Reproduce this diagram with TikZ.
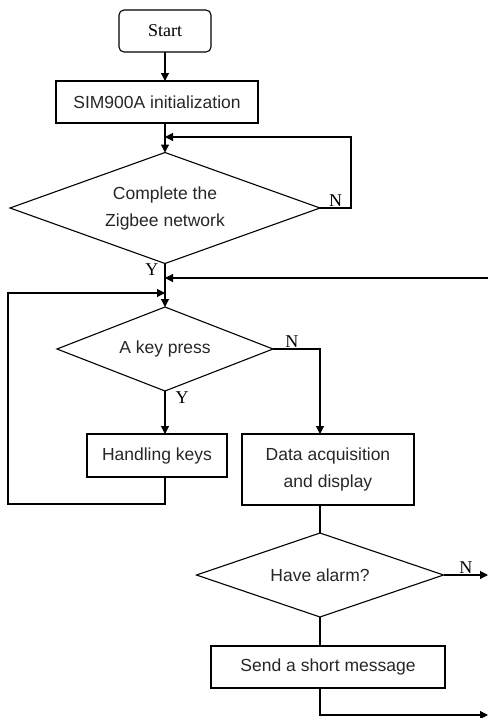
\documentclass[tikz,border=0pt]{standalone}
\usepackage{fontspec}
\setmainfont{Liberation Sans}
\newfontfamily\ynfont{Liberation Serif}
\usetikzlibrary{shapes.geometric,arrows.meta}

\tikzset{
  flowline/.style = {line width=1.1pt},
  flowarrow/.style = {flowline, -{Triangle[length=8pt,width=8pt]}},
  procbox/.style = {draw, line width=1.1pt, inner sep=0pt, outer sep=0pt,
                    align=center, text=black!85,
                    font=\fontsize{17.5}{27}\selectfont},
  startbox/.style = {procbox, rounded corners=5pt, text=black,
                     font=\ynfont\fontsize{18}{20}\selectfont},
  decision/.style = {diamond, procbox, shape aspect=2.6},
  yn/.style = {font=\ynfont\fontsize{18}{18}\selectfont, inner sep=0.5pt}
}

\begin{document}
\begin{tikzpicture}[x=1pt, y=-1pt]
	\useasboundingbox (0,0) rectangle (488,718);

	% boxes
	\node[startbox, minimum width=92pt, minimum height=42pt] (start) at (165,31) {Start};
	\node[procbox, minimum width=202pt, minimum height=42pt] (init) at (157,102) {SIM900A initialization};
	\node[decision, minimum width=310pt, minimum height=111pt] (net) at (165,208) {Complete the\\Zigbee network};
	\node[decision, minimum width=216pt, minimum height=84pt] (key) at (165,349) {A key press};
	\node[procbox, minimum width=140pt, minimum height=43pt] (keys) at (157,455.5) {Handling keys};
	\node[procbox, minimum width=172pt, minimum height=71pt] (data) at (328,469.5) {Data acquisition\\and display};
	\node[decision, minimum width=247pt, minimum height=84pt] (alarm) at (320,575) {Have alarm?};
	\node[procbox, minimum width=234pt, minimum height=42pt] (send) at (328,667) {Send a short message};

	% joins and open ends
	\coordinate (j1) at (165,137);
	\coordinate (j2) at (165,278);
	\coordinate (j3) at (165,293);
	\coordinate (edge2) at (488,278);
	\coordinate (edge1) at (488,575);
	\coordinate (edge0) at (488,715);

	% connectors
	\draw[flowarrow] (start.south) -- (start.south |- init.north);
	\draw[flowarrow] (net.north |- init.south) -- (net.north);
	\draw[flowarrow] (net.east) -- node[yn, above] {N} ++(31,0) |- (j1);
	\draw[flowarrow] (net.south) -- (key.north);
	\node[yn, below left, xshift=-6pt] at (net.south) {Y};
	\draw[flowarrow] (edge2) -- (j2);

	\draw[flowarrow] (key.south) -- (key.south |- keys.north);
	\node[yn, below right, xshift=10pt] at (key.south) {Y};
	\draw[flowarrow] (key.east) -- node[yn, above, pos=0.4] {N} (key.east -| alarm.north) -- (alarm.north |- data.north);
	\draw[flowarrow] (keys.south -| key.south) -- ++(0,27) -- ++(-157,0) |- (j3);

	\draw[flowline] (alarm.north |- data.south) -- (alarm.north);
	\draw[flowarrow] (alarm.east) -- node[yn, above] {N} (edge1);
	\draw[flowline] (alarm.south) -- (alarm.south |- send.north);
	\draw[flowarrow] (alarm.south |- send.south) |- (edge0);
\end{tikzpicture}
\end{document}
